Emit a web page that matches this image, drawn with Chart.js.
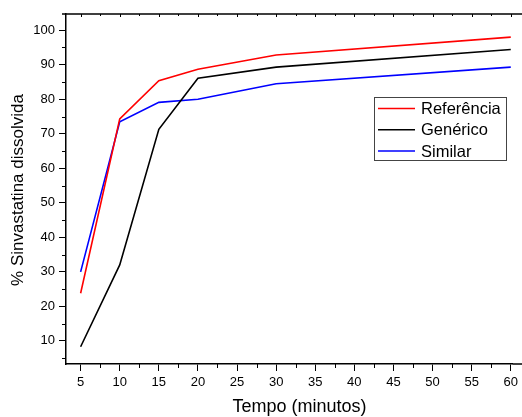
<!DOCTYPE html>
<html><head><meta charset="utf-8">
<script src="https://cdn.jsdelivr.net/npm/chart.js@4.4.0/dist/chart.umd.min.js"></script>
<style>html,body{margin:0;padding:0;background:#fff}#wrap{width:522px;height:417px}</style>
</head><body><div id="wrap"><canvas id="c" width="522" height="417"></canvas></div>
<script>
const times = [5, 10, 15, 20, 30, 60];
const referencia = [23.8, 74.3, 85.4, 88.7, 92.8, 98.0];
const generico = [8.3, 32.0, 71.3, 86.1, 89.3, 94.4];
const similar = [30.0, 73.5, 79.1, 80.0, 84.5, 89.3];
const xTicks = [5, 10, 15, 20, 25, 30, 35, 40, 45, 50, 55, 60];
const yTicks = [10, 20, 30, 40, 50, 60, 70, 80, 90, 100];
const seriesNames = ['Referência', 'Genérico', 'Similar'];
const seriesColors = ['#ff0000', '#000000', '#0000ff'];
const xTitle = 'Tempo (minutos)';
const yTitle = '% Sinvastatina dissolvida';

const toPts = arr => arr.map((v, i) => ({x: times[i], y: v}));
const FONT = 'Liberation Sans, Arial, sans-serif';

const extras = {
  id: 'extras',
  afterDraw(chart) {
    const ctx = chart.ctx, xs = chart.scales.x, ys = chart.scales.y, a = chart.chartArea;
    ctx.save();
    ctx.strokeStyle = '#000'; ctx.lineWidth = 1;
    ctx.beginPath();
    for (let v = 7.5; v < 61; v += 5) {
      const px = Math.round(xs.getPixelForValue(v)) + 0.5;
      ctx.moveTo(px, a.bottom); ctx.lineTo(px, a.bottom + 4);
      ctx.moveTo(px, a.top); ctx.lineTo(px, a.top + 2);
    }
    for (const v of xTicks) {
      const px = Math.round(xs.getPixelForValue(v)) + 0.5;
      ctx.moveTo(px, a.top); ctx.lineTo(px, a.top + 3);
    }
    for (let v = 5; v < 104; v += 10) {
      const py = Math.round(ys.getPixelForValue(v)) + 0.5;
      ctx.moveTo(a.left, py); ctx.lineTo(a.left - 4, py);
    }
    ctx.stroke();
    ctx.lineWidth = 1.5;
    ctx.beginPath();
    ctx.moveTo(a.left - 4, a.top); ctx.lineTo(522, a.top);
    ctx.moveTo(a.right, a.bottom); ctx.lineTo(522, a.bottom);
    ctx.stroke();
    // axis titles
    ctx.fillStyle = '#000';
    ctx.textAlign = 'center'; ctx.textBaseline = 'middle';
    ctx.font = '18px ' + FONT;
    ctx.fillText(xTitle, 299.5, 407.5);
    ctx.save();
    ctx.translate(18.5, 190);
    ctx.rotate(-Math.PI / 2);
    ctx.font = '17px ' + FONT;
    ctx.fillText(yTitle, 0, 0);
    ctx.restore();
    // legend
    ctx.textAlign = 'left';
    const lx = 374, ly = 97, lw = 132, lh = 63;
    ctx.fillStyle = '#fff';
    ctx.fillRect(lx, ly, lw, lh);
    ctx.lineWidth = 1; ctx.strokeStyle = '#444';
    ctx.strokeRect(lx + 0.5, ly + 0.5, lw, lh);
    ctx.font = '16.5px ' + FONT;
    ctx.textBaseline = 'middle';
    seriesNames.forEach((n, i) => {
      const yy = 108.5 + i * 21.3;
      ctx.strokeStyle = seriesColors[i]; ctx.lineWidth = 1.5;
      ctx.beginPath(); ctx.moveTo(lx + 4, yy); ctx.lineTo(lx + 41, yy); ctx.stroke();
      ctx.fillStyle = '#000';
      ctx.fillText(n, lx + 47, yy + 1);
    });
    ctx.restore();
  }
};

new Chart(document.getElementById('c'), {
  type: 'line',
  data: {
    datasets: [
      {label: seriesNames[0], data: toPts(referencia), borderColor: seriesColors[0]},
      {label: seriesNames[1], data: toPts(generico), borderColor: seriesColors[1]},
      {label: seriesNames[2], data: toPts(similar), borderColor: seriesColors[2]}
    ].map(d => Object.assign(d, {borderWidth: 1.6, pointRadius: 0, tension: 0, fill: false}))
  },
  options: {
    responsive: false, animation: false,
    layout: {padding: {top: 14, right: 1, left: 0, bottom: 0}},
    plugins: {legend: {display: false}, tooltip: {enabled: false}},
    scales: {
      x: {
        type: 'linear', min: 3.13, max: 60.25,
        afterBuildTicks: s => { s.ticks = xTicks.map(v => ({value: v})); },
        afterFit: s => { s.height = 53; },
        grid: {drawOnChartArea: false, drawTicks: true, tickLength: 7, color: '#000', lineWidth: 1},
        border: {display: true, color: '#000', width: 1.5},
        ticks: {color: '#000', padding: 4, font: {family: FONT, size: 13}, maxRotation: 0, autoSkip: false},
        title: {display: false}
      },
      y: {
        type: 'linear', min: 3.3, max: 104.7,
        afterBuildTicks: s => { s.ticks = yTicks.map(v => ({value: v})); },
        afterFit: s => { s.width = 66; },
        grid: {drawOnChartArea: false, drawTicks: true, tickLength: 7, color: '#000', lineWidth: 1},
        border: {display: true, color: '#000', width: 1.5},
        ticks: {color: '#000', padding: 4, font: {family: FONT, size: 13}, autoSkip: false},
        title: {display: false}
      }
    }
  },
  plugins: [extras]
});
</script></body></html>
